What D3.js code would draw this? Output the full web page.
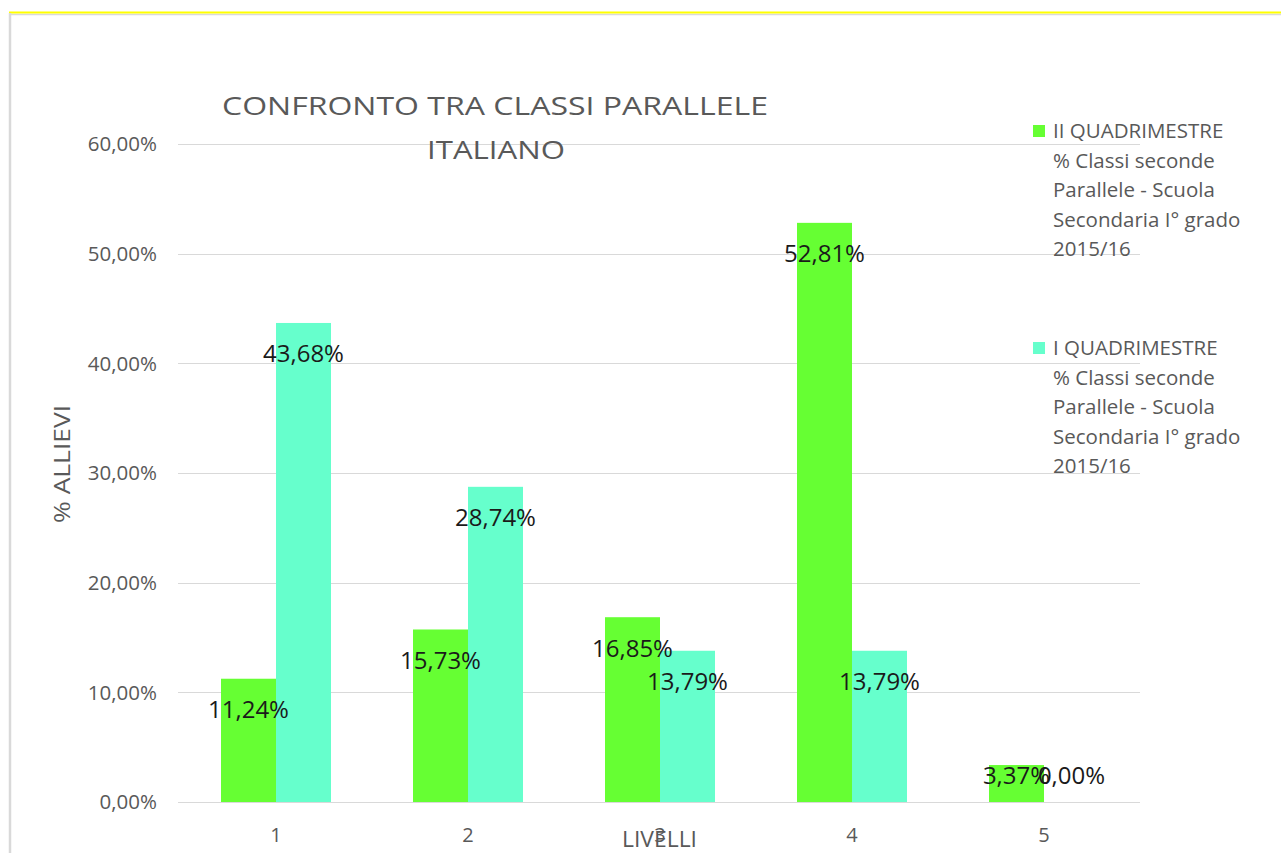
<!DOCTYPE html>
<html><head><meta charset="utf-8">
<script src="https://cdn.jsdelivr.net/npm/d3@7"></script>
<style>body{margin:0;background:#fff;}svg{display:block;}</style>
</head><body>
<svg id="c" width="1281" height="853"></svg>
<script>
const categories = ["1","2","3","4","5"];
const seriesNames = ["II QUADRIMESTRE", "I QUADRIMESTRE"];
const seriesII = [11.24, 15.73, 16.85, 52.81, 3.37];
const seriesI = [43.68, 28.74, 13.79, 13.79, 0.00];
const yTicks = [0, 10, 20, 30, 40, 50, 60];
const legendSub = ["% Classi seconde", "Parallele - Scuola", "Secondaria I° grado", "2015/16"];
const colors = ["#66ff33", "#66ffcc"];
const font = "'Open Sans', sans-serif";
const gray = "#595959";

const svg = d3.select("#c");
// frame
svg.append("line").attr("x1",9).attr("x2",1281).attr("y1",14.5).attr("y2",14.5).attr("stroke","#d9d9d9").attr("stroke-width",1.5);
svg.append("line").attr("x1",9).attr("x2",1281).attr("y1",12.5).attr("y2",12.5).attr("stroke","#ffff00").attr("stroke-width",2);
svg.append("line").attr("x1",10).attr("x2",10).attr("y1",13).attr("y2",853).attr("stroke","#d9d9d9").attr("stroke-width",2.5);

const x = d3.scaleBand().domain(categories).range([180,1140]).paddingInner(82/192).paddingOuter(41/192);
const xs = d3.scaleBand().domain([0,1]).range([0, x.bandwidth()]);
const y = d3.scaleLinear().domain([0,60]).range([802,144]);

// gridlines
svg.append("g").selectAll("line").data(yTicks).join("line")
  .attr("x1",178).attr("x2",1140).attr("y1",d=>Math.round(y(d))+0.5).attr("y2",d=>Math.round(y(d))+0.5)
  .attr("stroke","#d9d9d9").attr("stroke-width",1);

// y tick labels
const fmt = d => d.toFixed(2).replace(".", ",") + "%";
svg.append("g").selectAll("text").data(yTicks).join("text")
  .attr("x",157).attr("y",d=>y(d)).attr("dy","0.35em").attr("text-anchor","end")
  .attr("font-family",font).attr("font-size",20.5).attr("fill",gray).text(fmt);

// x tick labels
svg.append("g").selectAll("text").data(categories).join("text")
  .attr("x",d=>x(d)+x.bandwidth()/2).attr("y",835).attr("dy","0.35em").attr("text-anchor","middle")
  .attr("font-family",font).attr("font-size",20).attr("fill",gray).text(d=>d);

// axis titles
svg.append("text").attr("x",622).attr("y",840).attr("dy","0.35em")
  .attr("textLength",75).attr("lengthAdjust","spacingAndGlyphs")
  .attr("font-family",font).attr("font-size",21).attr("fill",gray).text("LIVELLI");
svg.append("text").attr("transform","translate(63,523) rotate(-90)").attr("dy","0.35em")
  .attr("textLength",118).attr("lengthAdjust","spacingAndGlyphs")
  .attr("font-family",font).attr("font-size",21).attr("fill",gray).text("% ALLIEVI");

// title
svg.append("text").attr("x",222).attr("y",106).attr("dy","0.35em")
  .attr("textLength",546).attr("lengthAdjust","spacingAndGlyphs")
  .attr("font-family",font).attr("font-size",25).attr("fill",gray).text("CONFRONTO TRA CLASSI PARALLELE");
svg.append("text").attr("x",427).attr("y",150).attr("dy","0.35em")
  .attr("textLength",138).attr("lengthAdjust","spacingAndGlyphs")
  .attr("font-family",font).attr("font-size",25).attr("fill",gray).text("ITALIANO");

const series = [seriesII, seriesI];
// bars
series.forEach((vals, si) => {
  svg.append("g").selectAll("rect").data(vals).join("rect")
    .attr("x",(d,i)=>x(categories[i])+xs(si)).attr("width",xs.bandwidth())
    .attr("y",d=>y(d)).attr("height",d=>y(0)-y(d)).attr("fill",colors[si]);
});
// labels
series.forEach((vals, si) => {
  svg.append("g").selectAll("text").data(vals).join("text")
    .attr("x",(d,i)=>x(categories[i])+xs(si)+xs.bandwidth()/2)
    .attr("y",d=>Math.min(y(d)+31, y(0)-26)).attr("dy","0.35em").attr("text-anchor","middle")
    .attr("font-family",font).attr("font-size",24).attr("fill","#1a1a1a").text(fmt);
});

// legend
const legY = [131, 348];
seriesNames.forEach((n, si) => {
  const g = svg.append("g");
  g.append("rect").attr("x",1033).attr("y",legY[si]-6).attr("width",12).attr("height",12).attr("fill",colors[si]);
  const lines = [n].concat(legendSub);
  g.selectAll("text").data(lines).join("text")
    .attr("x",1053).attr("y",(d,i)=>legY[si]+i*29.5).attr("dy","0.35em")
    .attr("font-family",font).attr("font-size",20.5).attr("fill",gray).text(d=>d);
});
</script>
</body></html>
